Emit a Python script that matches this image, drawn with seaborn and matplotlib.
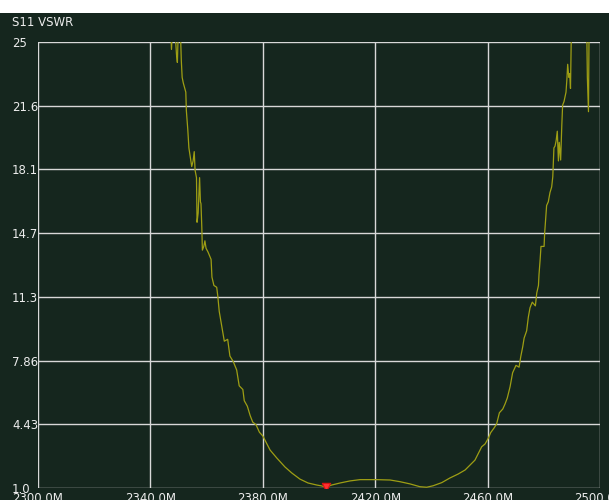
import matplotlib
matplotlib.use("Agg")
import matplotlib.pyplot as plt
from matplotlib.patches import Rectangle
import seaborn as sns
import pandas as pd

# ---- data (frequency in MHz, VSWR) ----
freq_mhz = [
    2346.0, 2347.3, 2347.5, 2347.8, 2348.8, 2349.3, 2349.6, 2349.9, 2350.7, 2351.0,
    2351.3, 2351.7, 2352.6, 2352.8, 2353.3, 2353.7, 2354.1, 2354.7, 2355.2, 2355.6,
    2355.9, 2356.4, 2356.6, 2357.0, 2357.5, 2357.8, 2358.0, 2358.3, 2358.5, 2359.0,
    2359.4, 2359.8, 2360.5, 2361.6, 2361.9, 2362.6, 2363.6, 2364.0, 2364.5, 2365.4,
    2366.3, 2367.5, 2368.3, 2369.5, 2370.7, 2371.6, 2372.9, 2373.4, 2374.5, 2375.5,
    2376.4, 2377.6, 2378.8, 2380.0, 2382.6, 2385.0, 2387.9, 2390.3, 2393.2, 2396.1,
    2399.2, 2401.0, 2402.5, 2404.5, 2407.5, 2411.0, 2414.6, 2420.5, 2425.3, 2428.8,
    2432.4, 2435.9, 2438.3, 2440.6, 2443.7, 2446.6, 2449.5, 2452.0, 2455.5, 2457.9,
    2459.1, 2460.3, 2461.1, 2462.3, 2463.2, 2464.2, 2465.4, 2466.2, 2467.0, 2468.0,
    2468.9, 2470.1, 2471.2, 2471.8, 2472.5, 2473.0, 2473.9, 2474.5, 2475.1, 2475.9,
    2477.0, 2477.5, 2478.1, 2478.3, 2478.7, 2478.9, 2479.0, 2480.1, 2480.3, 2480.7,
    2481.0, 2481.6, 2482.2, 2482.8, 2483.2, 2483.4, 2483.6, 2484.0, 2484.4, 2484.8,
    2485.2, 2485.5, 2486.0, 2486.4, 2486.7, 2487.2, 2487.6, 2487.9, 2488.2, 2488.5,
    2488.9, 2489.2, 2489.5, 2489.8, 2492.0, 2495.3, 2495.5, 2495.9, 2496.1, 2498.0,
]
vswr = [
    27.0, 25.5, 24.6, 25.5, 25.5, 24.3, 23.9, 25.5, 25.5, 24.0,
    23.1, 22.8, 22.3, 21.3, 20.3, 19.3, 18.9, 18.3, 18.6, 19.1,
    18.1, 17.7, 15.3, 15.8, 17.7, 16.4, 16.3, 15.0, 13.8, 14.0,
    14.3, 13.9, 13.7, 13.3, 12.35, 11.9, 11.8, 11.3, 10.5, 9.7,
    8.9, 9.0, 8.1, 7.8, 7.35, 6.5, 6.3, 5.7, 5.4, 4.9,
    4.55, 4.4, 4.0, 3.8, 3.04, 2.61, 2.13, 1.81, 1.48, 1.27,
    1.16, 1.11, 1.04, 1.16, 1.27, 1.38, 1.45, 1.45, 1.43, 1.34,
    1.22, 1.07, 1.04, 1.12, 1.29, 1.54, 1.75, 1.97, 2.5, 3.22,
    3.37, 3.69, 3.98, 4.23, 4.44, 5.05, 5.25, 5.52, 5.84, 6.45,
    7.2, 7.6, 7.5, 8.07, 8.6, 9.07, 9.46, 10.2, 10.7, 11.0,
    10.8, 11.5, 11.9, 12.5, 13.3, 13.8, 14.0, 14.0, 14.7, 15.6,
    16.2, 16.4, 16.9, 17.2, 17.75, 18.5, 19.3, 19.4, 19.7, 20.2,
    18.6, 19.6, 18.65, 20.5, 21.6, 21.8, 22.1, 22.3, 22.95, 23.8,
    23.1, 23.3, 22.5, 25.5, 27.0, 25.5, 23.1, 21.25, 25.5, 27.0,
]
marker_freq = [2402.5]
marker_vswr = [1.04]

x_ticks = [2300, 2340, 2380, 2420, 2460, 2500]
x_labels = ["2300.0M", "2340.0M", "2380.0M", "2420.0M", "2460.0M", "2500.0M"]
y_ticks = [1.0, 4.4286, 7.857, 11.286, 14.714, 18.143, 21.571, 25.0]
y_labels = ["1.0", "4.43", "7.86", "11.3", "14.7", "18.1", "21.6", "25"]
title = "S11 VSWR"

BG = "#15261e"
LINE = "#9e9e14"
GRID = "#d8d8d8"
TXT = "#ececec"

df = pd.DataFrame({"freq": freq_mhz, "vswr": vswr})
mk = pd.DataFrame({"freq": marker_freq, "vswr": marker_vswr})

sns.set_style("dark")
plt.rcParams["font.family"] = ["DejaVu Sans"]

fig = plt.figure(figsize=(6.09, 5.0), dpi=100)
fig.patch.set_facecolor("white")
fig.patches.append(Rectangle((0, 0), 1, (500 - 13) / 500, transform=fig.transFigure,
                             facecolor=BG, edgecolor="none", zorder=-10))

ax = fig.add_axes([38 / 609, 12 / 500, (600 - 38) / 609, (488 - 42) / 500])
ax.set_facecolor(BG)

sns.lineplot(data=df, x="freq", y="vswr", ax=ax, color=LINE, linewidth=0.9,
             estimator=None, sort=False, zorder=3)
sns.scatterplot(data=mk, x="freq", y="vswr", ax=ax, marker="v", s=36,
                color="#ff3030", edgecolor="#e01010", linewidth=0.8, zorder=4)

ax.set_xlim(2300, 2500)
ax.set_ylim(1.0, 25.0)
ax.set_xticks(x_ticks)
ax.set_xticklabels(x_labels)
ax.set_yticks(y_ticks)
ax.set_yticklabels(y_labels)
ax.set_xlabel("")
ax.set_ylabel("")

ax.grid(True, color=GRID, linewidth=1.0)
ax.set_axisbelow(True)
for s in ax.spines.values():
    s.set_visible(False)

ax.tick_params(axis="y", colors=GRID, labelcolor=TXT, length=3.6, width=1,
               direction="out", pad=15, labelsize=8.5)
for lab in ax.get_yticklabels():
    lab.set_horizontalalignment("left")
ax.tick_params(axis="x", length=0, labelcolor=TXT, pad=3, labelsize=8.5)

fig.text(12 / 609, 1 - 23 / 500, title, color=TXT, fontsize=8.5, ha="left", va="center")

fig.savefig("out.png", dpi=100, facecolor=fig.get_facecolor())
